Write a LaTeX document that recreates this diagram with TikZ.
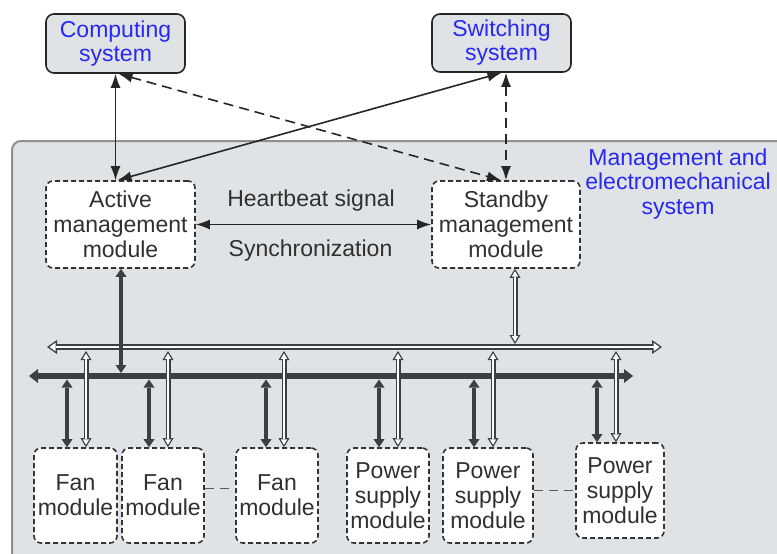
\documentclass[tikz,border=0pt]{standalone}
\usepackage{fontspec}
\setmainfont{Liberation Sans}
\usetikzlibrary{arrows.meta}
\definecolor{panelfill}{HTML}{DFE3E6}
\definecolor{panelline}{HTML}{8C9196}
\definecolor{darkbus}{HTML}{3B4046}
\definecolor{txtgray}{HTML}{303030}
\definecolor{bluetxt}{RGB}{40,40,245}
\tikzset{
 topbox/.style={draw=black!85, line width=1.6pt, fill=panelfill, rounded corners=8pt, inner sep=0pt, align=center, text=bluetxt, font=\fontsize{23}{24}\selectfont},
 modbox/.style={draw=black!80, line width=1.6pt, dash pattern=on 5pt off 3pt, fill=white, rounded corners=7pt, inner sep=0pt, align=center, text=txtgray, font=\fontsize{23}{25}\selectfont},
 lbl/.style={text=txtgray, font=\fontsize{23}{25}\selectfont, inner sep=0pt},
 conn/.style={draw=black!85, line width=1.6pt, {Latex[length=14pt,width=10pt]}-{Latex[length=14pt,width=10pt]}},
 dconn/.style={conn, dash pattern=on 10pt off 6pt},
 dotlink/.style={draw=black!65, line width=1.5pt, dash pattern=on 9pt off 6pt},
 darkarr/.style={draw=darkbus, line width=4.5pt, {Triangle[length=8pt,width=11pt,line width=0pt]}-{Triangle[length=8pt,width=11pt,line width=0pt]}},
 darkbusline/.style={draw=darkbus, line width=6pt, {Triangle[length=9pt,width=14pt,line width=0pt]}-{Triangle[length=9pt,width=14pt,line width=0pt]}},
 hollowout/.style={draw=darkbus, line width=5pt, {Triangle[length=9pt,width=11pt,line width=0pt]}-{Triangle[length=9pt,width=11pt,line width=0pt]}},
 hollowin/.style={draw=white, line width=2pt, shorten <=2.4pt, shorten >=2.4pt, {Triangle[length=5.5pt,width=6.5pt,line width=0pt]}-{Triangle[length=5.5pt,width=6.5pt,line width=0pt]}},
 hbusout/.style={draw=darkbus, line width=6pt, {Triangle[length=10pt,width=14pt,line width=0pt]}-{Triangle[length=10pt,width=14pt,line width=0pt]}},
 hbusin/.style={draw=white, line width=2.8pt, shorten <=2.5pt, shorten >=2.5pt, {Triangle[length=6pt,width=8.5pt,line width=0pt]}-{Triangle[length=6pt,width=8.5pt,line width=0pt]}},
}
\newcommand\hollowarrow[2]{\draw[hollowout] #1 -- #2; \draw[hollowin] #1 -- #2;}
\newcommand\hollowbus[2]{\draw[hbusout] #1 -- #2; \draw[hbusin] #1 -- #2;}
\begin{document}
\begin{tikzpicture}[x=1pt,y=-1pt]
\useasboundingbox (0,0) rectangle (777,554);
\fill[white] (0,0) rectangle (777,554);
% panel
\begin{scope}
\clip (0,0) rectangle (777,554);
\draw[line width=2pt, draw=panelline, fill=panelfill, rounded corners=9pt] (12,600) -- (12,141) -- (800,141) -- (800,600);
\end{scope}
% top systems
\node[topbox, minimum width=139pt, minimum height=59pt] (comp) at (115.5,43.5) {Computing\\system};
\node[topbox, minimum width=139pt, minimum height=58pt] (sw) at (501.5,43) {Switching\\system};
% management modules
\node[modbox, minimum width=149pt, minimum height=87pt] (active) at (120.5,224.5) {Active\\management\\module};
\node[modbox, minimum width=148pt, minimum height=87pt] (standby) at (506,224.5) {Standby\\management\\module};
\node[inner sep=0pt, align=center, text=bluetxt, font=\fontsize{23}{24.5}\selectfont] (mgmt) at (678,184) {Management and\\electromechanical\\system};
% top connectors
\draw[conn] (comp.south) -- (comp.south |- active.north);
\draw[conn] (sw.south) -- ([xshift=-3pt]active.north);
\draw[dconn] ([xshift=3pt]comp.south) -- ([xshift=-5pt]standby.north);
\draw[dconn] (standby.north |- sw.south) -- (standby.north);
\draw[conn] (active) -- (standby);
\node[lbl, anchor=base] (hb) at (311,206) {Heartbeat signal};
\node[lbl, anchor=base] (sync) at (310.5,256) {Synchronization};
% bottom modules
\node[modbox, minimum width=83pt, minimum height=95pt] (fan1) at (75.5,495.5) {Fan\\module};
\node[modbox, minimum width=82pt, minimum height=95pt] (fan2) at (163,495.5) {Fan\\module};
\node[modbox, minimum width=82pt, minimum height=95pt] (fan3) at (277,495.5) {Fan\\module};
\node[modbox, minimum width=82pt, minimum height=95pt] (pow1) at (388,495.5) {Power\\supply\\module};
\node[modbox, minimum width=90pt, minimum height=95pt] (pow2) at (488,495.5) {Power\\supply\\module};
\node[modbox, minimum width=88pt, minimum height=95pt] (pow3) at (620,490.5) {Power\\supply\\module};
\draw[dotlink] ([yshift=7pt]fan2.east) -- ([yshift=7pt]fan3.west);
\draw[dotlink] (pow3.west -| pow2.east) -- (pow3.west);
% buses
\coordinate (hbL) at (47,347);
\coordinate (hbR) at (662,347);
\coordinate (dbL) at (29,376);
\coordinate (dbR) at (633,376);
\hollowbus{(hbL)}{(hbR)}
\draw[darkbusline] (dbL) -- (dbR);
\coordinate (actbus) at (121,373);
\draw[darkarr] (active.south -| actbus) -- (actbus);
\coordinate (sbbus) at (515,344);
\hollowarrow{(standby.south -| sbbus)}{(sbbus)}
\foreach \m/\dx/\hx in {fan1/67/86, fan2/149/168, fan3/266/284, pow1/379/398, pow2/474/493, pow3/597/616}{
  \coordinate (\m d) at (\dx,379.5);
  \coordinate (\m h) at (\hx,351);
  \draw[darkarr] (\m d) -- (\m d |- \m.north);
  \hollowarrow{(\m h)}{(\m h |- \m.north)}
}
\end{tikzpicture}
\end{document}
